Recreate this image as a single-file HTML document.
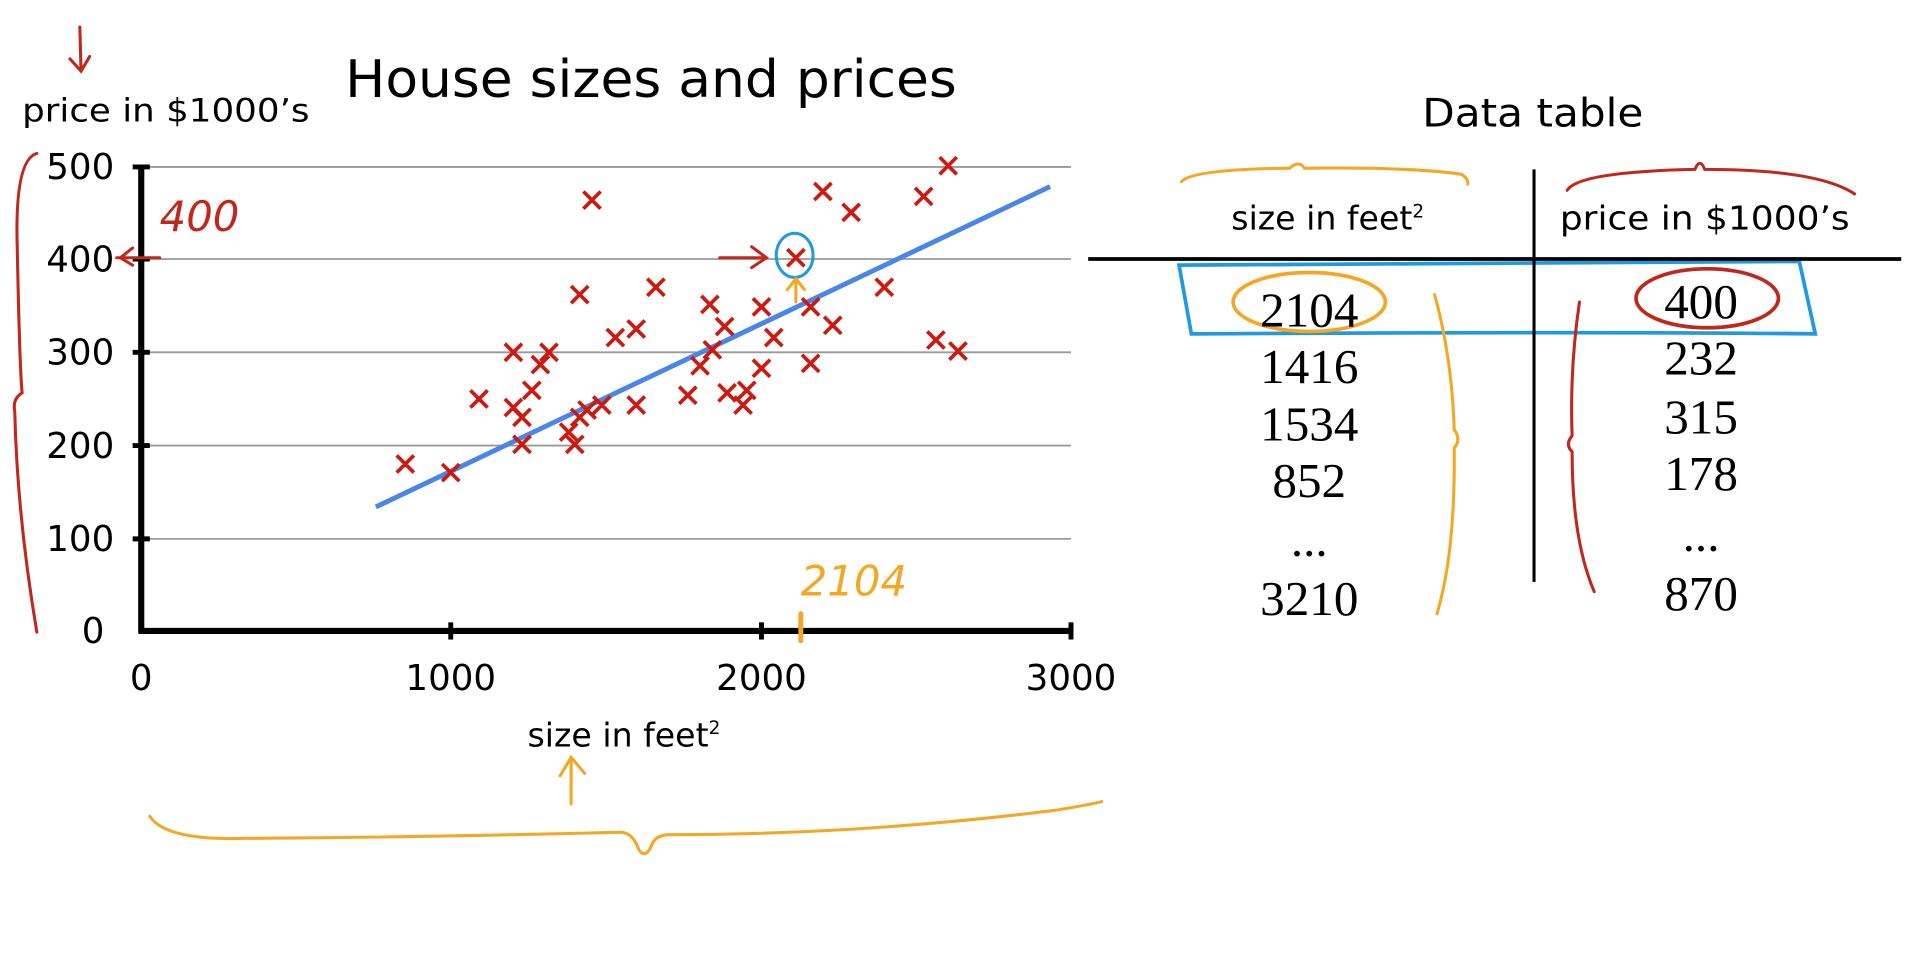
<!DOCTYPE html>
<html><head><meta charset="utf-8"><style>
html,body{margin:0;padding:0;background:#fff;}
svg{display:block;}
text{font-family:"DejaVu Sans","Liberation Sans",sans-serif;fill:#000;}
.s{font-family:"Liberation Serif","DejaVu Serif",serif;}
</style></head><body>
<svg width="1916" height="955" viewBox="0 0 1560 778" preserveAspectRatio="none" xmlns="http://www.w3.org/2000/svg">
<rect width="1560" height="778" fill="#fff"/>
<text x="530" y="79" font-size="42" text-anchor="middle" textLength="498" lengthAdjust="spacingAndGlyphs">House sizes and prices</text>
<text x="18" y="99" font-size="26" textLength="234" lengthAdjust="spacingAndGlyphs">price in $1000’s</text>
<g stroke="#999" stroke-width="1.5">
<line x1="115" y1="136" x2="872" y2="136"/><line x1="115" y1="211" x2="872" y2="211"/>
<line x1="115" y1="287" x2="872" y2="287"/><line x1="115" y1="363" x2="872" y2="363"/>
<line x1="115" y1="439" x2="872" y2="439"/>
</g>
<g stroke="#000" stroke-width="5">
<line x1="115" y1="134" x2="115" y2="516"/><line x1="113" y1="514" x2="874" y2="514"/>
</g>
<g stroke="#000" stroke-width="4">
<line x1="108" y1="136" x2="122" y2="136"/><line x1="108" y1="211" x2="122" y2="211"/>
<line x1="108" y1="287" x2="122" y2="287"/><line x1="108" y1="363" x2="122" y2="363"/>
<line x1="108" y1="439" x2="122" y2="439"/>
<line x1="367" y1="507" x2="367" y2="521"/><line x1="620" y1="507" x2="620" y2="521"/><line x1="872" y1="507" x2="872" y2="521"/>
</g>
<g font-size="29" text-anchor="end">
<text x="93" y="146">500</text><text x="93" y="221">400</text><text x="93" y="297">300</text>
<text x="93" y="373">200</text><text x="93" y="449">100</text><text x="85" y="524">0</text>
</g>
<g font-size="29" text-anchor="middle">
<text x="115" y="562">0</text><text x="367" y="562">1000</text><text x="620" y="562">2000</text><text x="872" y="562">3000</text>
</g>
<text x="508" y="608" font-size="27" text-anchor="middle">size in feet<tspan font-size="15" dy="-10">2</tspan></text>
<line x1="306" y1="413" x2="855" y2="152" stroke="#4a86e8" stroke-width="4"/>
<g stroke="#cc1a10" stroke-width="3" fill="none">
<path d="M323 371l14 14m0-14l-14 14M360 378l14 14m0-14l-14 14M383 318l14 14m0-14l-14 14M411 280l14 14m0-14l-14 14M440 280l14 14m0-14l-14 14M411 325l14 14m0-14l-14 14M426 311l14 14m0-14l-14 14M418 333l14 14m0-14l-14 14M418 355l14 14m0-14l-14 14M456 345l14 14m0-14l-14 14M465 333l14 14m0-14l-14 14M461 355l14 14m0-14l-14 14M471 327l14 14m0-14l-14 14M483 323l14 14m0-14l-14 14M475 156l14 14m0-14l-14 14M494 268l14 14m0-14l-14 14M511 261l14 14m0-14l-14 14M511 323l14 14m0-14l-14 14M527 227l14 14m0-14l-14 14M553 315l14 14m0-14l-14 14M563 291l14 14m0-14l-14 14M571 241l14 14m0-14l-14 14M583 259l14 14m0-14l-14 14M573 278l14 14m0-14l-14 14M585 313l14 14m0-14l-14 14M598 323l14 14m0-14l-14 14M601 311l14 14m0-14l-14 14M613 293l14 14m0-14l-14 14M613 243l14 14m0-14l-14 14M623 268l14 14m0-14l-14 14M641 203l14 14m0-14l-14 14M653 243l14 14m0-14l-14 14M653 289l14 14m0-14l-14 14M663 149l14 14m0-14l-14 14M671 258l14 14m0-14l-14 14M686 166l14 14m0-14l-14 14M713 227l14 14m0-14l-14 14M745 153l14 14m0-14l-14 14M755 270l14 14m0-14l-14 14M773 279l14 14m0-14l-14 14M765 128l14 14m0-14l-14 14M465 233l14 14m0-14l-14 14M433 290l14 14m0-14l-14 14"/>
</g>
<g fill="none" stroke-linecap="round" stroke-width="2.5">
<path d="M65 22 L66 58 M57 48 L66 58 L73 46" stroke="#c0281c"/>
<path d="M30 125 Q12 130 14 200 Q16 300 18 320 Q10 325 12 335 Q14 420 30 515" stroke="#c0281c"/>
<path d="M95 210 L130 210 M108 202 L98 210 L108 216" stroke="#c0281c"/>
<path d="M586 210 L624 210 M612 201 L624 210 L612 218" stroke="#c0281c"/>
<ellipse cx="647" cy="208" rx="15" ry="18" stroke="#1e9ae0"/>
<path d="M648 246 L648 228 M641 236 L648 227 L655 236" stroke="#f5a623"/>
<path d="M652 500 L652 522" stroke="#f5a623" stroke-width="4"/>
<path d="M465 655 L465 618 M456 632 L465 617 L476 630" stroke="#f5a623"/>
<path d="M122 665 Q135 685 200 683 Q350 682 505 678 Q515 678 520 692 Q525 700 530 690 Q533 680 545 680 Q700 680 860 660 Q890 655 897 653" stroke="#f5a623"/>
<path d="M962 148 Q970 138 1050 137 Q1058 130 1062 137 Q1150 136 1190 142 Q1196 146 1195 150" stroke="#f5a623"/>
<path d="M1276 155 Q1285 140 1380 138 Q1384 128 1388 138 Q1480 138 1510 158" stroke="#c0281c"/>
<path d="M960 216 L1465 213 L1478 272 Q1300 270 970 272 Z" stroke="#1e9ae0" stroke-width="3"/>
<ellipse cx="1066" cy="246" rx="62" ry="24" stroke="#f5a623" stroke-width="3"/>
<ellipse cx="1390" cy="243" rx="58" ry="24" stroke="#c0281c" stroke-width="3"/>
<path d="M1168 240 Q1182 290 1184 350 Q1190 358 1184 365 Q1185 450 1170 500" stroke="#f5a623"/>
<path d="M1286 246 Q1278 300 1280 355 Q1274 362 1280 368 Q1280 440 1298 482" stroke="#c0281c"/>
</g>
<text x="130" y="188" font-size="34" style="fill:#c0281c;font-style:italic">400</text>
<text x="652" y="485" font-size="34" style="fill:#f5a623;font-style:italic">2104</text>
<text x="1248" y="103" font-size="32" text-anchor="middle" textLength="180" lengthAdjust="spacingAndGlyphs">Data table</text>
<text x="1081" y="187" font-size="27" text-anchor="middle">size in feet<tspan font-size="15" dy="-10">2</tspan></text>
<text x="1388" y="187" font-size="27" text-anchor="middle" textLength="236" lengthAdjust="spacingAndGlyphs">price in $1000’s</text>
<line x1="886" y1="211" x2="1548" y2="211" stroke="#000" stroke-width="3"/>
<line x1="1249" y1="138" x2="1249" y2="474" stroke="#000" stroke-width="2.5"/>
<g font-size="40" text-anchor="middle">
<text class="s" x="1066" y="266">2104</text><text class="s" x="1066" y="312">1416</text>
<text class="s" x="1066" y="359">1534</text><text class="s" x="1066" y="405">852</text>
<text class="s" x="1066" y="453">...</text><text class="s" x="1066" y="501">3210</text>
<text class="s" x="1385" y="259">400</text><text class="s" x="1385" y="305">232</text>
<text class="s" x="1385" y="353">315</text><text class="s" x="1385" y="399">178</text>
<text class="s" x="1385" y="449">...</text><text class="s" x="1385" y="497">870</text>
</g>
</svg>
</body></html>
